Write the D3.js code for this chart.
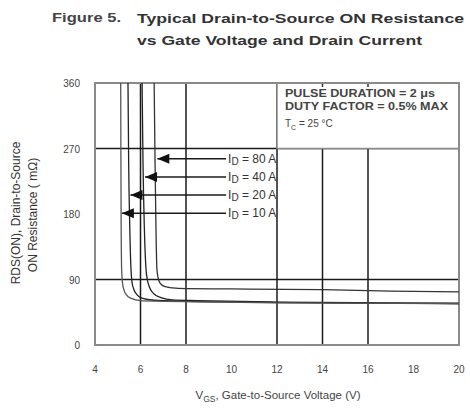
<!DOCTYPE html>
<html>
<head>
<meta charset="utf-8">
<script src="https://cdn.jsdelivr.net/npm/d3@7"></script>
<style>
  body { margin: 0; background: #fff; }
  svg { display: block; font-family: "Liberation Sans", Arial, sans-serif; }
</style>
</head>
<body>
<div id="chart"></div>
<script>
// values
var xTicks = [4, 6, 8, 10, 12, 14, 16, 18, 20];
var yTicks = [0, 90, 180, 270, 360];
var xGrid = [6, 8, 12, 14, 16];
var yGrid = [90, 270];

var currents = ["80", "40", "20", "10"];
var labelR = [256, 231, 206, 181];      // level of each I_D arrow
var arrowTipV = [6.74, 6.2, 5.56, 5.18]; // where each arrow touches its curve
var labelV = 9.85;

var curve80 = [[6.6, 360], [6.64, 250], [6.68, 160], [6.72, 105], [6.77, 93], [6.86, 85], [7.05, 80.5], [7.4, 78.5], [8, 77.5], [10, 77], [14, 76], [17, 74], [20, 73]];
var curve40 = [[6.07, 360], [6.11, 250], [6.17, 160], [6.24, 105], [6.3, 90], [6.4, 79], [6.6, 70], [6.9, 65], [7.4, 62], [8.5, 61], [12, 59], [16, 58], [20, 57]];
var curve20 = [[5.45, 360], [5.48, 250], [5.53, 160], [5.58, 105], [5.62, 88], [5.7, 77], [5.85, 69], [6.1, 64], [6.6, 61.5], [8, 60], [10, 59], [14, 58], [20, 57]];
var curve10 = [[5.13, 360], [5.14, 250], [5.15, 160], [5.17, 105], [5.2, 88], [5.26, 77], [5.38, 69], [5.6, 64], [6, 61], [7, 60], [8, 59.5], [12, 58], [20, 57]];
var curves = [curve80, curve40, curve20, curve10];
var curveColors = ["#333", "#222", "#222", "#555"];

var boxLines = ["PULSE DURATION = 2 \u03bcs", "DUTY FACTOR = 0.5% MAX"];

var W = 470, H = 412;
var margin = {top: 83, bottom: 67, left: 95, right: 11};

var svg = d3.select("#chart").append("svg")
    .attr("width", W)
    .attr("height", H);

var xScale = d3.scaleLinear().domain([4, 20]).range([margin.left, W - margin.right]);
var yScale = d3.scaleLinear().domain([0, 360]).range([H - margin.bottom, margin.top]);

// title
svg.append("text")
    .attr("x", 52).attr("y", 22)
    .attr("font-size", 12).attr("font-weight", "bold").attr("fill", "#444")
    .attr("textLength", 69).attr("lengthAdjust", "spacingAndGlyphs")
    .text("Figure 5.");
svg.append("text")
    .attr("x", 137).attr("y", 23)
    .attr("font-size", 13).attr("font-weight", "bold").attr("fill", "#333")
    .attr("textLength", 327).attr("lengthAdjust", "spacingAndGlyphs")
    .text("Typical Drain-to-Source ON Resistance");
svg.append("text")
    .attr("x", 137).attr("y", 45)
    .attr("font-size", 13).attr("font-weight", "bold").attr("fill", "#333")
    .attr("textLength", 285).attr("lengthAdjust", "spacingAndGlyphs")
    .text("vs Gate Voltage and Drain Current");

// grid
svg.append("g").selectAll("line.vgrid")
    .data(xGrid).enter().append("line")
    .attr("x1", d => xScale(d)).attr("x2", d => xScale(d))
    .attr("y1", yScale(0)).attr("y2", yScale(360))
    .attr("stroke", "#1a1a1a").attr("stroke-width", 1.5);

svg.append("g").selectAll("line.hgrid")
    .data(yGrid).enter().append("line")
    .attr("x1", xScale(4)).attr("x2", xScale(20))
    .attr("y1", d => yScale(d)).attr("y2", d => yScale(d))
    .attr("stroke", "#1a1a1a").attr("stroke-width", 1.5);

// conditions box, covers the grid in the top right corner
svg.append("rect")
    .attr("x", xScale(12)).attr("y", yScale(360))
    .attr("width", xScale(20) - xScale(12))
    .attr("height", yScale(270) - yScale(360))
    .attr("fill", "#fff").attr("stroke", "#8a8a8a").attr("stroke-width", 1.5);

svg.append("g").selectAll("line.topTick")
    .data([14, 16]).enter().append("line")
    .attr("x1", d => xScale(d)).attr("x2", d => xScale(d))
    .attr("y1", yScale(360)).attr("y2", yScale(360) + 4)
    .attr("stroke", "#333").attr("stroke-width", 1.5);

var boxText = svg.append("g")
    .attr("font-size", 10).attr("font-weight", "bold").attr("fill", "#444");
boxText.append("text").attr("x", 285).attr("y", 97)
    .attr("textLength", 150).attr("lengthAdjust", "spacingAndGlyphs").text(boxLines[0]);
boxText.append("text").attr("x", 285).attr("y", 110)
    .attr("textLength", 163).attr("lengthAdjust", "spacingAndGlyphs").text(boxLines[1]);
var tc = boxText.append("text").attr("x", 285).attr("y", 127).attr("font-weight", "normal");
tc.append("tspan").text("T");
tc.append("tspan").attr("font-size", 7).attr("dy", 3).text("C");
tc.append("tspan").attr("dy", -3).text(" = 25 \u00b0C");

// frame
svg.append("rect")
    .attr("x", xScale(4)).attr("y", yScale(360))
    .attr("width", xScale(20) - xScale(4))
    .attr("height", yScale(0) - yScale(360))
    .attr("fill", "none").attr("stroke", "#8a8a8a").attr("stroke-width", 2);

// curves
var line = d3.line()
    .x(d => xScale(d[0]))
    .y(d => yScale(d[1]))
    .curve(d3.curveMonotoneX);

svg.append("g").selectAll("path.curve")
    .data(curves).enter().append("path")
    .attr("d", line)
    .attr("fill", "none")
    .attr("stroke", (d, i) => curveColors[i])
    .attr("stroke-width", 1.3);

// I_D arrows and labels
var arrows = svg.append("g").selectAll("g.arrow")
    .data(currents).enter().append("g");

arrows.append("line")
    .attr("x1", (d, i) => xScale(arrowTipV[i]))
    .attr("x2", xScale(labelV) - 2)
    .attr("y1", (d, i) => yScale(labelR[i]))
    .attr("y2", (d, i) => yScale(labelR[i]))
    .attr("stroke", "#1a1a1a").attr("stroke-width", 1.5);

arrows.append("path")
    .attr("d", function(d, i) {
        var tx = xScale(arrowTipV[i]), ty = yScale(labelR[i]);
        return "M" + tx + "," + ty + "L" + (tx + 12) + "," + (ty - 5)
            + "L" + (tx + 12) + "," + (ty + 5) + "Z";
    })
    .attr("fill", "#111");

var labels = arrows.append("text")
    .attr("x", xScale(labelV))
    .attr("y", (d, i) => yScale(labelR[i]) + 4)
    .attr("font-size", 12).attr("fill", "#333");
labels.append("tspan").text("I");
labels.append("tspan").attr("font-size", 10).attr("dy", 2).text("D");
labels.append("tspan").attr("dy", -2).text(d => " = " + d + " A");

// tick labels
svg.append("g").selectAll("text.ytick")
    .data(yTicks).enter().append("text")
    .attr("x", 80)
    .attr("y", d => yScale(d) + 4)
    .attr("text-anchor", "end")
    .attr("font-size", 10).attr("fill", "#444")
    .text(d => d);

svg.append("g").selectAll("text.xtick")
    .data(xTicks).enter().append("text")
    .attr("x", d => xScale(d))
    .attr("y", 373)
    .attr("text-anchor", "middle")
    .attr("font-size", 10).attr("fill", "#444")
    .text(d => d);

// axis titles
var xt = svg.append("text")
    .attr("x", 278).attr("y", 399)
    .attr("text-anchor", "middle")
    .attr("font-size", 11.5).attr("fill", "#444");
xt.append("tspan").text("V");
xt.append("tspan").attr("font-size", 8.5).attr("dy", 3).text("GS");
xt.append("tspan").attr("dy", -3).text(", Gate-to-Source Voltage (V)");

svg.append("text")
    .attr("transform", "translate(20, 213) rotate(-90)")
    .attr("text-anchor", "middle")
    .attr("font-size", 12).attr("fill", "#333")
    .text("RDS(ON), Drain-to-Source");
svg.append("text")
    .attr("transform", "translate(37, 215) rotate(-90)")
    .attr("text-anchor", "middle")
    .attr("font-size", 12).attr("fill", "#333")
    .text("ON Resistance ( m\u03a9)");
</script>
</body>
</html>
